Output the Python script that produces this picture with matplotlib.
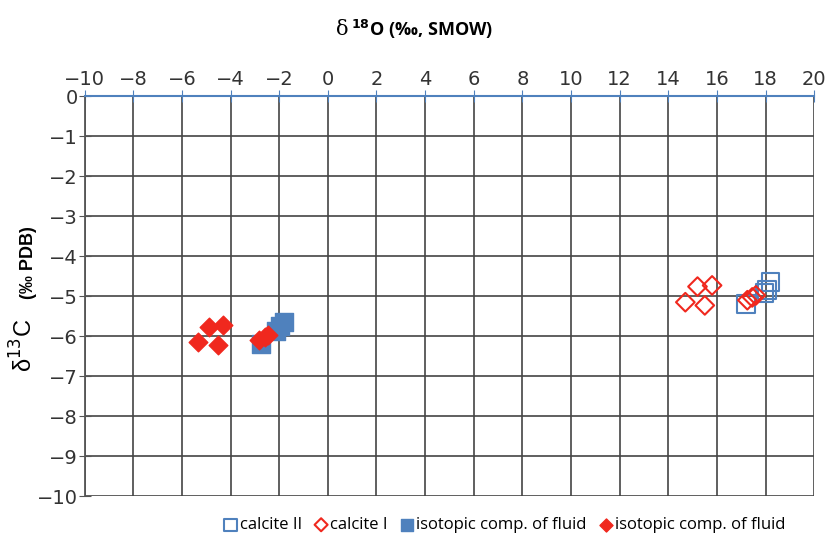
import matplotlib.pyplot as plt
import numpy as np

# calcite II (open squares)
c2_x = [17.2, 17.95, 18.2, 18.05]
c2_y = [-5.19, -4.92, -4.65, -4.85]
# calcite I (open diamonds)
c1_x = [14.7, 15.2, 15.8, 15.5, 17.25, 17.45, 17.6]
c1_y = [-5.15, -4.76, -4.73, -5.23, -5.1, -5.03, -4.98]
# isotopic comp. of fluid (filled squares)
f2_x = [-2.75, -2.15, -1.8, -1.95]
f2_y = [-6.2, -5.88, -5.65, -5.75]
# isotopic comp. of fluid (filled diamonds)
f1_x = [-5.35, -4.9, -4.3, -4.5, -2.85, -2.6, -2.45]
f1_y = [-6.15, -5.76, -5.73, -6.23, -6.1, -6.02, -5.98]

blue = '#4f81bd'
red = '#f0281e'

fig = plt.figure(figsize=(8.3, 5.44), dpi=100)
ax = fig.add_axes([0.102, 0.088, 0.879, 0.735])

ax.scatter(c2_x, c2_y, marker='s', s=160, facecolors='none', edgecolors=blue, linewidths=1.5,
           label='calcite II', zorder=3)
ax.scatter(c1_x, c1_y, marker='D', s=90, facecolors='none', edgecolors=red, linewidths=1.5,
           label='calcite I', zorder=4)
ax.scatter(f2_x, f2_y, marker='s', s=160, color=blue, label='isotopic comp. of fluid', zorder=3)
ax.scatter(f1_x, f1_y, marker='D', s=90, color=red, label='isotopic comp. of fluid', zorder=4)

ax.set_xlim(-10, 20)
ax.set_ylim(-10, 0)
ax.set_xticks(np.arange(-10, 21, 2))
ax.set_yticks(np.arange(-10, 1, 1))
ax.xaxis.tick_top()
ax.set_xticklabels([str(v).replace('-', '\u2212') for v in range(-10, 21, 2)])
ax.set_yticklabels([str(v).replace('-', '\u2212') for v in range(-10, 1, 1)])
ax.tick_params(axis='both', labelsize=14, colors='#333333', direction='inout', length=8)
ax.tick_params(axis='x', color=blue, pad=1)
ax.tick_params(axis='y', color='#555555', pad=1)

ax.grid(True, color='#444444', linewidth=1.2)
ax.set_axisbelow(True)
for s in ['right', 'bottom']:
    ax.spines[s].set_visible(False)
ax.spines['top'].set_color(blue)
ax.spines['top'].set_linewidth(1.5)
ax.spines['left'].set_color('#555555')
ax.spines['left'].set_linewidth(1.3)

fig.text(0.42, 0.945, '\u03b4', fontsize=15, family='DejaVu Serif', ha='right', va='center')
fig.text(0.423, 0.945, r'$^{\mathbf{18}}$O (‰, SMOW)', fontsize=13, fontweight='bold',
         family=['Open Sans', 'DejaVu Sans'], ha='left', va='center')
fig.text(0.029, 0.365, '\u03b4$^{13}$C', rotation=90, fontsize=17, va='center', ha='center',
         family=['Liberation Sans', 'DejaVu Sans'])
fig.text(0.034, 0.517, '(‰ PDB)', rotation=90, fontsize=13, fontweight='bold', va='center',
         ha='center', family=['Liberation Sans', 'DejaVu Sans'])

ax.legend(loc='upper center', bbox_to_anchor=(0.575, -0.015), ncol=4, frameon=False,
          handletextpad=0.1, columnspacing=0.7, handlelength=0.9, markerscale=0.7,
          prop={'family': ['Open Sans', 'DejaVu Sans'], 'size': 12})

plt.savefig('out.png')
